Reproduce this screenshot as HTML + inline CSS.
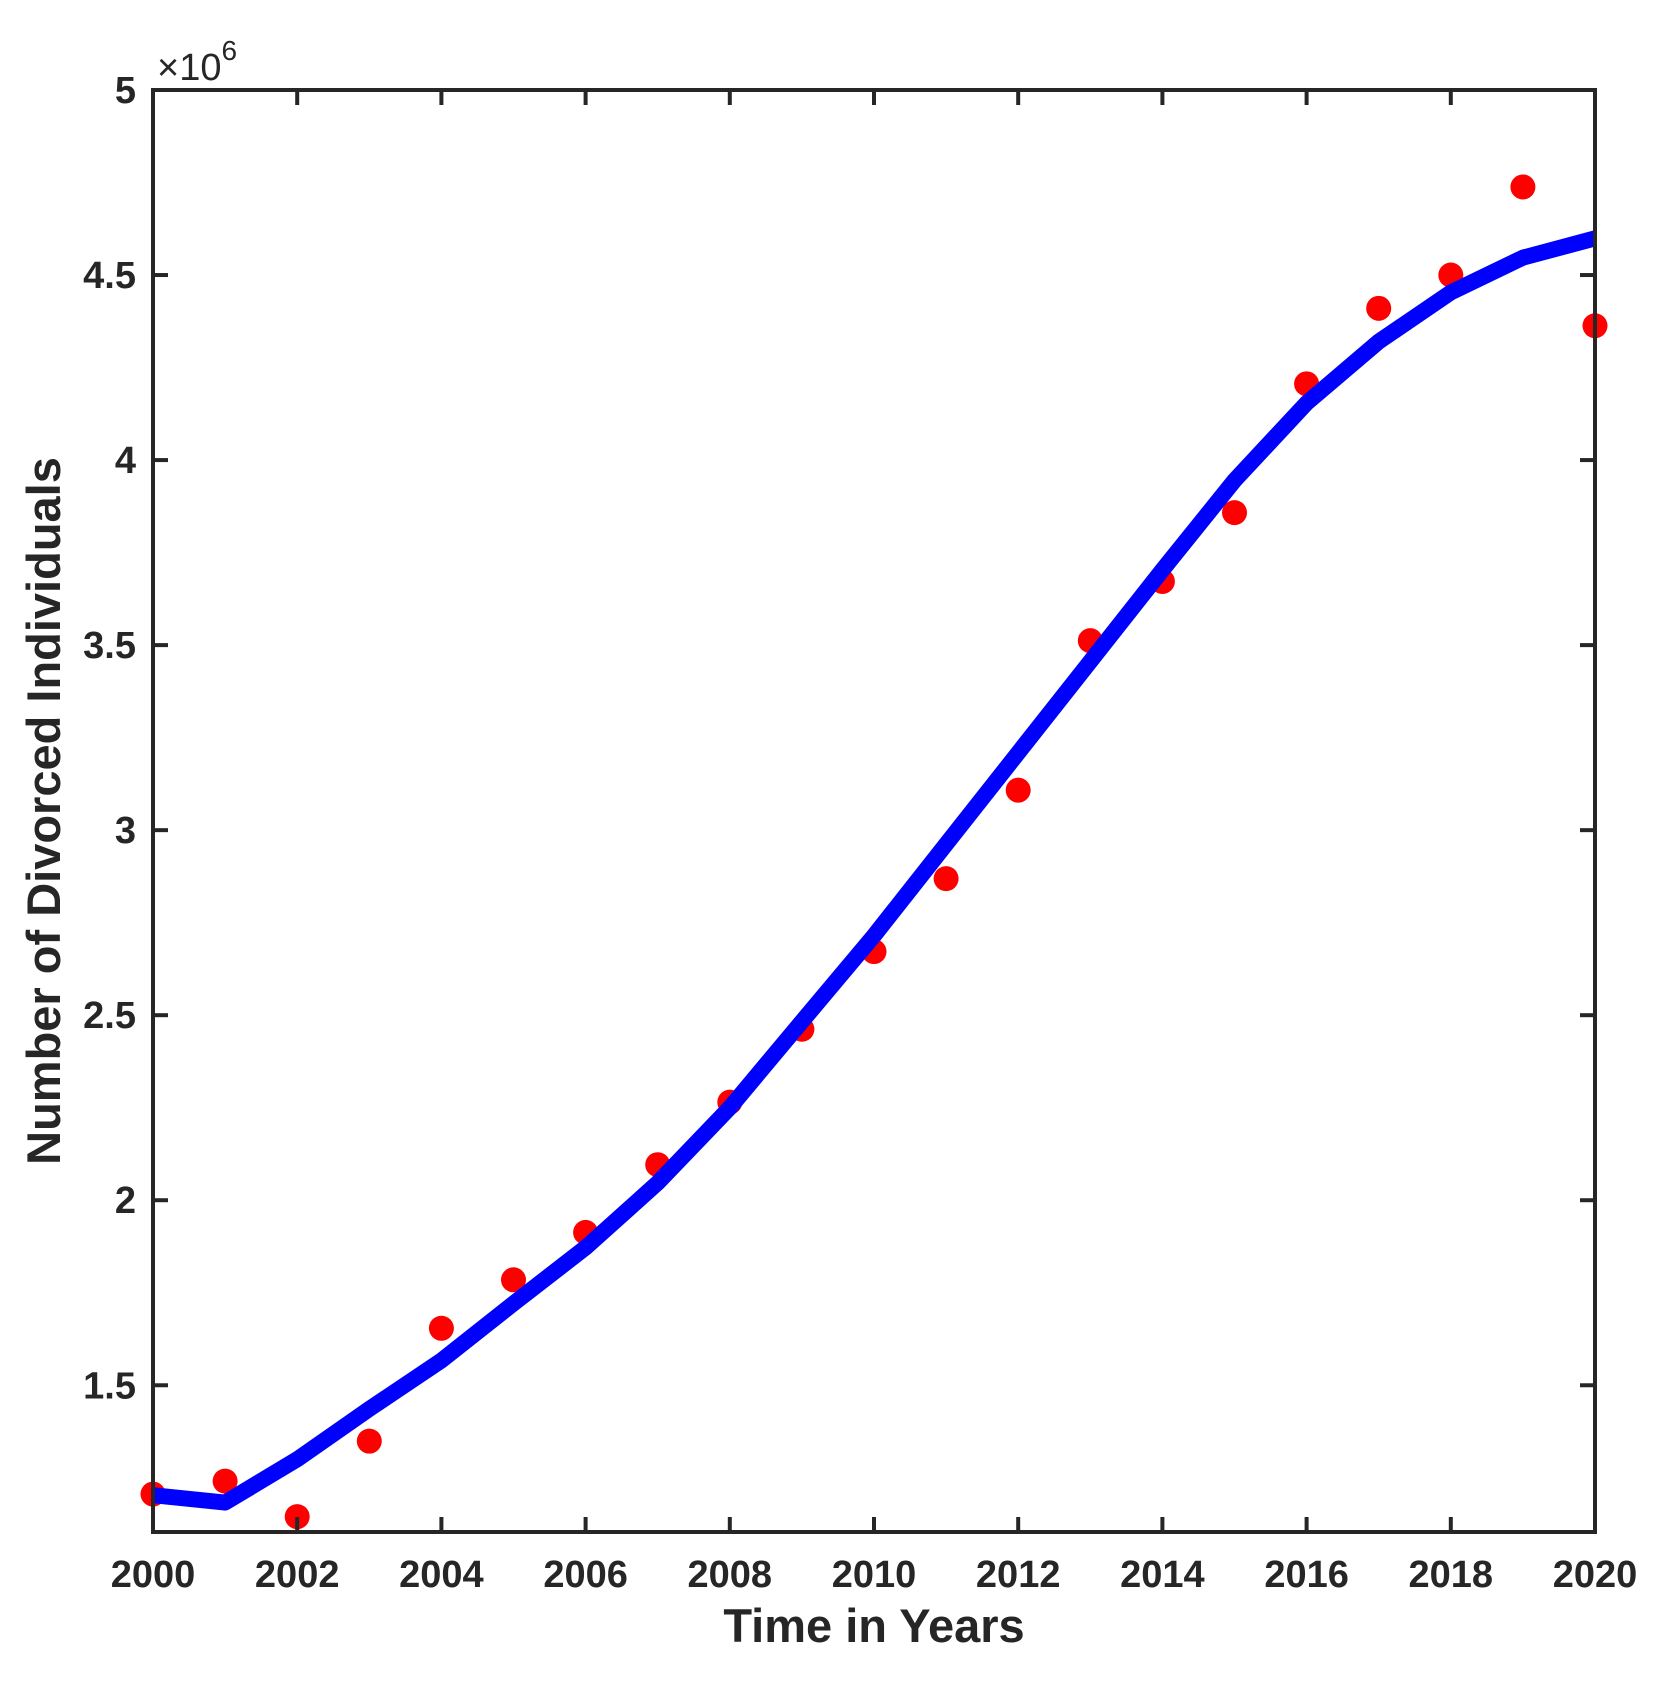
<!DOCTYPE html>
<html><head><meta charset="utf-8"><style>
html,body{margin:0;padding:0;background:#fff;}
svg{display:block;font-family:"Liberation Sans",Arial,sans-serif;}
</style></head><body>
<svg id="chart" width="1662" height="1681" viewBox="0 0 1662 1681" xmlns="http://www.w3.org/2000/svg">
<rect width="1662" height="1681" fill="#fff"/>
<g id="marks"></g>
<g id="axes"></g>
</svg>
<script>
const years = [2000,2001,2002,2003,2004,2005,2006,2007,2008,2009,2010,2011,2012,2013,2014,2015,2016,2017,2018,2019,2020];
const observed = [1.206,1.241,1.145,1.349,1.654,1.785,1.913,2.096,2.265,2.462,2.672,2.869,3.108,3.512,3.672,3.858,4.206,4.410,4.500,4.738,4.363];
const fitted = [1.203,1.183,1.300,1.436,1.567,1.721,1.872,2.047,2.250,2.483,2.715,2.962,3.209,3.456,3.703,3.945,4.154,4.320,4.453,4.547,4.599];
const xTicks = [2000,2002,2004,2006,2008,2010,2012,2014,2016,2018,2020];
const yTicks = [1.5,2,2.5,3,3.5,4,4.5,5];
const yTickLabels = ["1.5","2","2.5","3","3.5","4","4.5","5"];

const L=153,R=1595,T=90,B=1532, xMin=2000,xMax=2020,yMin=1.1035,yMax=5;
const xs=v=>L+(v-xMin)/(xMax-xMin)*(R-L);
const ys=v=>B-(v-yMin)/(yMax-yMin)*(B-T);
const NS="http://www.w3.org/2000/svg";
function mk(tag,attrs,parent){const e=document.createElementNS(NS,tag);for(const k in attrs)e.setAttribute(k,attrs[k]);parent.appendChild(e);return e;}
const marks=document.getElementById('marks'), axes=document.getElementById('axes');

observed.forEach((v,i)=>{
  const c=mk('circle',{cx:xs(years[i]),cy:ys(v),r:12.5,fill:'#ff0000'},marks);
  
  
});
const line=mk('polyline',{points:fitted.map((v,i)=>xs(years[i])+','+ys(v)).join(' '),fill:'none',stroke:'#0000ff','stroke-width':16,'stroke-linejoin':'round'},marks);



const box=mk('rect',{x:L,y:T,width:R-L,height:B-T,fill:'none',stroke:'#262626','stroke-width':4},axes);


xTicks.forEach(t=>{
  const x=xs(t);
  mk('line',{x1:x,y1:B,x2:x,y2:B-15,stroke:'#262626','stroke-width':4},axes);
  mk('line',{x1:x,y1:T,x2:x,y2:T+15,stroke:'#262626','stroke-width':4},axes);
  const tx=mk('text',{x:x,y:1587,'text-anchor':'middle','font-size':38,'font-weight':'bold',fill:'#262626'},axes);
  tx.textContent=t;
  
  
});
yTicks.forEach((t,i)=>{
  const y=ys(t);
  mk('line',{x1:L,y1:y,x2:L+15,y2:y,stroke:'#262626','stroke-width':4},axes);
  mk('line',{x1:R,y1:y,x2:R-15,y2:y,stroke:'#262626','stroke-width':4},axes);
  const tx=mk('text',{x:136,y:y+13,'text-anchor':'end','font-size':38,'font-weight':'bold',fill:'#262626'},axes);
  tx.textContent=yTickLabels[i];
  
  
});
const ex=mk('text',{x:157,y:80,'font-size':38,fill:'#262626'},axes);
ex.innerHTML='×10<tspan dy="-20" font-size="28">6</tspan>';


const xt=mk('text',{x:(L+R)/2,y:1642,'text-anchor':'middle','font-size':47,'font-weight':'bold',fill:'#262626'},axes);
xt.textContent='Time in Years';


const yt=mk('text',{x:0,y:0,'text-anchor':'middle','font-size':47,'font-weight':'bold',fill:'#262626',transform:'translate(60,'+((T+B)/2)+') rotate(-90)'},axes);
yt.textContent='Number of Divorced Individuals';


</script>
</body></html>
